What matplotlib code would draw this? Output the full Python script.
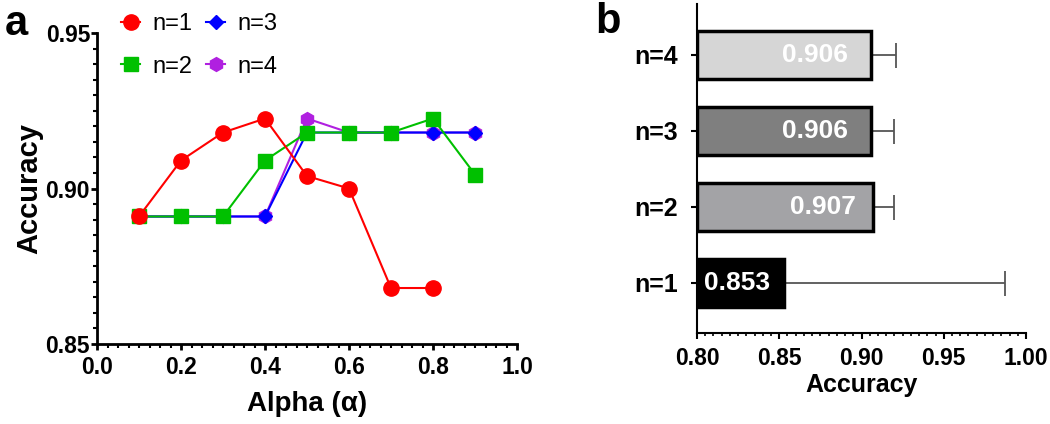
import numpy as np
import matplotlib.pyplot as plt
from matplotlib.ticker import MultipleLocator

plt.rcParams['font.family'] = ['Liberation Sans', 'DejaVu Sans']

alpha = [0.1, 0.2, 0.3, 0.4, 0.5, 0.6, 0.7, 0.8, 0.9]
acc_n1 = [0.891, 0.909, 0.918, 0.9225, 0.904, 0.900, 0.868, 0.868]
acc_n2 = [0.891, 0.891, 0.891, 0.909, 0.918, 0.918, 0.918, 0.9225, 0.9045]
acc_n3 = [0.891, 0.891, 0.891, 0.891, 0.918, 0.918, 0.918, 0.918, 0.918]
acc_n4 = [0.891, 0.891, 0.891, 0.891, 0.9225, 0.918, 0.918, 0.918, 0.918]

bar_labels = ["n=1", "n=2", "n=3", "n=4"]
bar_means = [0.853, 0.907, 0.906, 0.906]
bar_err = [0.134, 0.013, 0.014, 0.015]
bar_colors = ["#000000", "#a3a3a6", "#7f7f7f", "#d6d6d6"]
label_gap = [None, 0.0105, 0.0145, 0.0145]   # distance of value text from bar end

fig = plt.figure(figsize=(10.5, 4.24), dpi=100)

# ---------------- panel a ----------------
ax1 = fig.add_axes([97 / 1050, 1 - 344 / 424, 420 / 1050, 311 / 424])
ax1.plot(alpha, acc_n4, color="#b020e0", marker="h", ms=10, lw=1.5, label="n=4", zorder=2)
ax1.plot(alpha, acc_n3, color="#0000ff", marker="D", ms=7.5, lw=1.5, label="n=3", zorder=3)
ax1.plot(alpha, acc_n2, color="#00c000", marker="s", ms=10, lw=1.5, label="n=2", zorder=4)
ax1.plot(alpha[:len(acc_n1)], acc_n1, color="#ff0000", marker="o", ms=11, lw=1.5, label="n=1", zorder=5)

ax1.set_xlim(0, 1.0)
ax1.set_ylim(0.85, 0.95)
ax1.xaxis.set_major_locator(MultipleLocator(0.2))
ax1.xaxis.set_minor_locator(MultipleLocator(0.025))
ax1.yaxis.set_major_locator(MultipleLocator(0.05))
ax1.yaxis.set_minor_locator(MultipleLocator(0.005))
ax1.xaxis.set_major_formatter(plt.FormatStrFormatter("%.1f"))
ax1.yaxis.set_major_formatter(plt.FormatStrFormatter("%.2f"))
for s in ["top", "right"]:
    ax1.spines[s].set_visible(False)
for s in ["left", "bottom"]:
    ax1.spines[s].set_linewidth(2)
ax1.tick_params(which="major", length=4, width=2, labelsize=16.5)
ax1.tick_params(axis="x", which="major", pad=5)
ax1.tick_params(axis="y", which="major", pad=1)
ax1.tick_params(which="minor", length=3, width=1.5)
for lbl in ax1.get_xticklabels() + ax1.get_yticklabels():
    lbl.set_fontweight("bold")
ax1.set_xlabel("Alpha (α)", fontsize=20, fontweight="bold", labelpad=8)
ax1.set_ylabel("Accuracy", fontsize=21, fontweight="bold")
ax1.yaxis.set_label_coords(-0.128, 0.5)

h, l = ax1.get_legend_handles_labels()
order = [3, 2, 1, 0]
ax1.legend([h[i] for i in order], [l[i] for i in order], ncol=2, frameon=False,
           fontsize=17, loc="upper left", bbox_to_anchor=(112 / 1050, 1 - 4 / 424),
           bbox_transform=fig.transFigure, handlelength=0.8, handletextpad=0.5,
           columnspacing=0.6, labelspacing=0.85, borderaxespad=0.0)

fig.text(5 / 1050, 1 - 4 / 424, "a", fontsize=30, fontweight="bold", va="top")

# ---------------- panel b ----------------
ax2 = fig.add_axes([697 / 1050, 1 - 333 / 424, 329 / 1050, 329 / 424])
ypos = np.arange(len(bar_labels))
ax2.barh(ypos, [m - 0.8 for m in bar_means], left=0.8, height=0.64,
         color=bar_colors, edgecolor="black", linewidth=2.5, zorder=3)
ax2.errorbar(bar_means, ypos, xerr=[np.zeros(4), bar_err], fmt="none",
             ecolor="#555555", elinewidth=1.3, capsize=9, capthick=1.3, zorder=2)
for i, m in enumerate(bar_means):
    if label_gap[i] is None:
        ax2.text(0.8045, i, f"{m:.3f}", color="white", fontsize=19, fontweight="bold",
                 ha="left", va="center", zorder=4)
    else:
        ax2.text(m - label_gap[i], i, f"{m:.3f}", color="white",
                 fontsize=19, fontweight="bold", ha="right", va="center", zorder=4)

ax2.set_xlim(0.8, 1.0)
ax2.set_ylim(-0.66, 3.67)
ax2.set_yticks(ypos)
ax2.set_yticklabels(bar_labels)
ax2.xaxis.set_major_locator(MultipleLocator(0.05))
ax2.xaxis.set_minor_locator(MultipleLocator(0.005))
ax2.xaxis.set_major_formatter(plt.FormatStrFormatter("%.2f"))
for s in ["top", "right"]:
    ax2.spines[s].set_visible(False)
for s in ["left", "bottom"]:
    ax2.spines[s].set_linewidth(1.5)
ax2.tick_params(which="major", length=4, width=1.5, labelsize=16.5)
ax2.tick_params(axis="x", which="major", pad=6)
ax2.tick_params(axis="y", labelsize=18, pad=10)
ax2.tick_params(which="minor", length=2.5, width=1.2)
for lbl in ax2.get_xticklabels() + ax2.get_yticklabels():
    lbl.set_fontweight("bold")
ax2.set_xlabel("Accuracy", fontsize=18, fontweight="bold", labelpad=2)

fig.text(595 / 1050, 1 - 2 / 424, "b", fontsize=30, fontweight="bold", va="top")

fig.savefig("out.png", dpi=100)
